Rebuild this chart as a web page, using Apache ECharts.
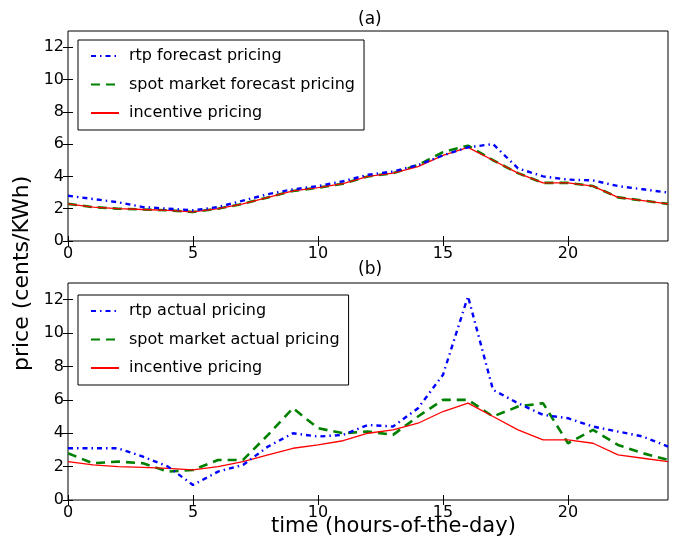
<!DOCTYPE html>
<html><head><meta charset="utf-8">
<script src="https://cdn.jsdelivr.net/npm/echarts@6/dist/echarts.min.js"></script>
<style>html,body{margin:0;padding:0;background:#fff}#c{width:685px;height:544px}</style>
</head><body><div id="c"></div>
<script>
var hours = [0,1,2,3,4,5,6,7,8,9,10,11,12,13,14,15,16,17,18,19,20,21,22,23,24];
var xTicks = [0,5,10,15,20];
var yTicks = [0,2,4,6,8,10,12];
// (a) forecast
var rtpForecast  = [2.8,2.6,2.4,2.1,2.0,1.9,2.1,2.5,2.9,3.2,3.4,3.7,4.1,4.3,4.7,5.3,5.8,6.0,4.5,4.0,3.8,3.75,3.4,3.2,3.0];
var spotForecast = [2.3,2.1,2.0,1.95,1.9,1.8,2.0,2.3,2.7,3.1,3.3,3.55,4.0,4.2,4.7,5.5,5.9,5.0,4.2,3.6,3.6,3.4,2.7,2.5,2.3];
var incentive    = [2.3,2.1,2.0,1.95,1.9,1.8,2.0,2.3,2.7,3.1,3.3,3.55,4.0,4.2,4.6,5.3,5.8,5.0,4.2,3.6,3.6,3.4,2.7,2.5,2.3];
// (b) actual
var rtpActual    = [3.1,3.1,3.1,2.6,2.0,0.9,1.7,2.1,3.2,4.0,3.8,3.9,4.5,4.4,5.5,7.5,12.2,6.6,5.8,5.1,4.9,4.4,4.1,3.8,3.2];
var spotActual   = [2.8,2.2,2.3,2.2,1.7,1.8,2.4,2.4,3.9,5.5,4.3,4.0,4.1,3.9,5.0,6.0,6.0,5.0,5.6,5.8,3.4,4.2,3.3,2.8,2.4];

function pairs(v){ return hours.map(function(h,i){ return [h, v[i]]; }); }
var FONT = 'DejaVu Sans';
var grids = [
  {left:68, top:31, width:600, height:210},
  {left:68, top:283, width:600, height:217}
];
var xAxes = [], yAxes = [];
[0,1].forEach(function(g){
  ['bottom','top'].forEach(function(pos){
    xAxes.push({type:'value', gridIndex:g, position:pos, min:0, max:24, interval:5,
      axisLine:{show:false}, splitLine:{show:false},
      axisTick:{show:true, inside:true, length:5, customValues:xTicks, lineStyle:{color:'#000', width:1}},
      axisLabel:{show:pos==='bottom', customValues:xTicks, margin:5, color:'#000', fontFamily:FONT, fontSize:16}
    });
  });
  ['left','right'].forEach(function(pos){
    yAxes.push({type:'value', gridIndex:g, position:pos, min:0, max:13, interval:1,
      axisLine:{show:false}, splitLine:{show:false},
      axisTick:{show:true, inside:true, length:5, customValues:yTicks, lineStyle:{color:'#000', width:1}},
      axisLabel:{show:pos==='left', customValues:yTicks, margin:4, color:'#000', fontFamily:FONT, fontSize:16}
    });
  });
});
function mk(name, data, g, kind){
  var ls;
  if (kind==='rtp') ls = {color:'#0000ff', width:2.4, type:[5,4,1.5,4]};
  else if (kind==='spot') ls = {color:'#008000', width:2.6, type:[9,6]};
  else ls = {color:'#ff0000', width:1.3, type:'solid'};
  return {name:name, type:'line', xAxisIndex:g*2, yAxisIndex:g*2, data:pairs(data),
    symbol:'none', lineStyle:ls, itemStyle:{color:ls.color}, animation:false, silent:true, z: kind==='incentive'?3:(kind==='spot'?2:4)};
}
var legendCommon = {orient:'vertical', left:78, itemWidth:28, itemHeight:16, itemGap:12.5,
  backgroundColor:'#fff', borderColor:'#000', borderWidth:1, padding:[8,9,9,12],
  itemStyle:{opacity:0},
  selectedMode:false, textStyle:{fontFamily:FONT, fontSize:16, color:'#000', padding:[0,0,0,5]}};
var option = {
  backgroundColor:'#fff',
  animation:false,
  grid: grids.map(function(g){ return Object.assign({show:true, borderColor:'#000', borderWidth:1, backgroundColor:'#fff'}, g); }),
  xAxis: xAxes,
  yAxis: yAxes,
  legend: [
    Object.assign({top:40, data:['rtp forecast pricing','spot market forecast pricing','incentive pricing']}, legendCommon),
    Object.assign({top:295, data:['rtp actual pricing','spot market actual pricing','incentive pricing']}, legendCommon)
  ],
  series: [
    mk('incentive pricing', incentive, 0, 'incentive'),
    mk('spot market forecast pricing', spotForecast, 0, 'spot'),
    mk('rtp forecast pricing', rtpForecast, 0, 'rtp'),
    mk('incentive pricing', incentive, 1, 'incentive'),
    mk('spot market actual pricing', spotActual, 1, 'spot'),
    mk('rtp actual pricing', rtpActual, 1, 'rtp')
  ],
  graphic: [
    {type:'text', x:358, y:11, style:{text:'(a)', font:'17px "DejaVu Sans"', fill:'#000'}},
    {type:'text', x:358, y:261, style:{text:'(b)', font:'17px "DejaVu Sans"', fill:'#000'}},
    {type:'text', x:271, y:516, style:{text:'time (hours-of-the-day)', font:'21px "DejaVu Sans"', fill:'#000'}},
    {type:'text', x:11, y:371, rotation:Math.PI/2, style:{text:'price (cents/KWh)', font:'22px "DejaVu Sans"', fill:'#000'}}
  ]
};
echarts.init(document.getElementById('c'), null, {renderer:'canvas'}).setOption(option);
</script></body></html>
